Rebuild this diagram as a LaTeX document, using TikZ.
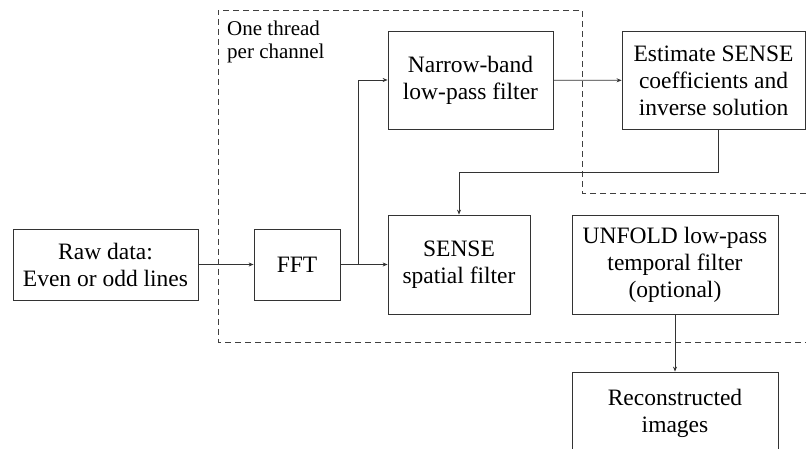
\documentclass[tikz,border=0pt]{standalone}
\usepackage{fontspec}
\setmainfont{Liberation Serif}
\usetikzlibrary{arrows.meta}
\begin{document}
\begin{tikzpicture}[x=1pt,y=-1pt,
  blk/.style={draw=black!80, line width=0.8pt, align=center, inner sep=0pt,
    font=\fontsize{23.5}{27}\selectfont},
  flow/.style={draw=black!80, line width=0.8pt, -{Stealth[length=5pt,width=4pt]}},
  region/.style={draw=black!75, line width=0.8pt, dash pattern=on 6pt off 4pt}]
\useasboundingbox (0,0) rectangle (806,449);

% per-channel thread region (open towards the right edge)
\draw[region] (806,193) -- (582,193) -- (582,10) -- (218,10) -- (218,342) -- (806,342);
\node[anchor=north west, inner sep=0pt, align=left,
  font=\fontsize{21}{22.5}\selectfont] (thr) at (227,21) {One thread\\per channel};

% processing blocks
\node[blk, minimum width=185pt, minimum height=71pt] (raw) at (105.5,264.5) {Raw data:\\Even or odd lines};
\node[blk, minimum width=86pt, minimum height=71pt] (fft) at (297,264.5) {FFT};
\node[blk, minimum width=165pt, minimum height=98pt] (nb) at (470.5,80) {Narrow-band\\low-pass filter};
\node[blk, minimum width=183pt, minimum height=98pt] (est) at (713.5,80.5) {Estimate SENSE\\coefficients and\\inverse solution};
\node[blk, minimum width=142pt, minimum height=99pt] (sense) at (459,264.5) {SENSE\\spatial filter};
\node[blk, minimum width=206pt, minimum height=99pt] (unf) at (675,264.5) {UNFOLD low-pass\\temporal filter\\(optional)};
\node[blk, minimum width=206pt, minimum height=82pt] (rec) at (675,413) {Reconstructed\\images};

% connectors
\coordinate (split) at (358,264.5);
\coordinate (back) at (718,172);
\draw[flow] (raw) -- (fft);
\draw[flow] (fft) -- (sense);
\draw[flow] (split) |- (nb.west);
\draw[flow] (nb) -- (est);
\draw[flow] (est.south -| back) -- (back) -| (sense.north);
\draw[flow] (unf) -- (rec);
\end{tikzpicture}
\end{document}
